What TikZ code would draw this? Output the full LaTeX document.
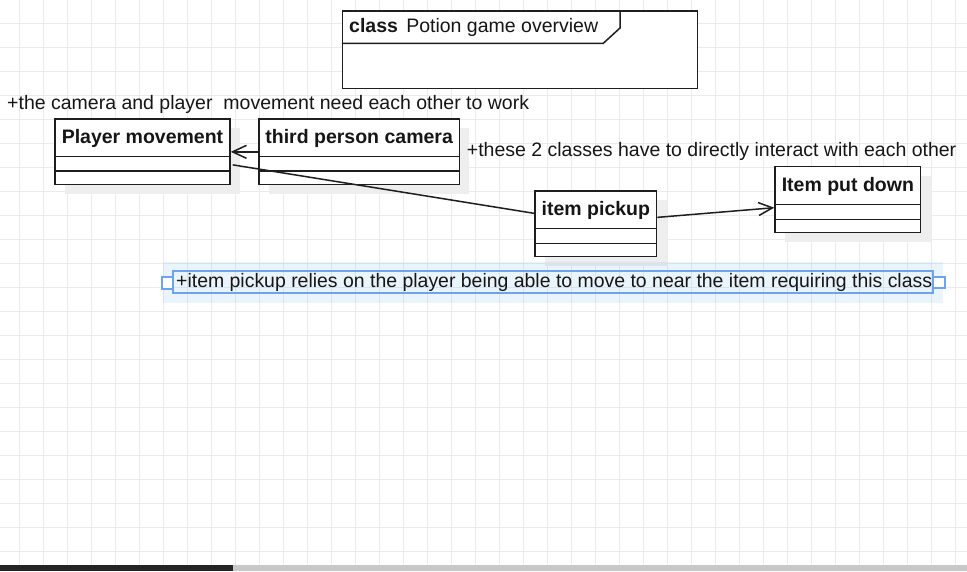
\documentclass[tikz,border=0pt]{standalone}
\usepackage{fontspec}
\usepackage{graphicx}
\setmainfont{Liberation Sans}
\usetikzlibrary{arrows.meta,shadows}
\definecolor{txt}{HTML}{161616}
\definecolor{gridc}{HTML}{EBEBEB}
\definecolor{edge}{HTML}{1E1E1E}
\definecolor{shade}{HTML}{EEEEEE}
\definecolor{selb}{HTML}{6FA3EE}
\definecolor{selfill}{HTML}{1E88E5}
\definecolor{bardark}{HTML}{242424}
\definecolor{barlight}{HTML}{C8C8C8}
\begin{document}
\begin{tikzpicture}[x=1pt,y=-1pt,
  font=\fontsize{19.5}{23}\selectfont, text=txt,
  classbox/.style={draw=edge, line width=1.5pt, fill=white, inner sep=0pt, rectangle,
    drop shadow={shadow xshift=10pt, shadow yshift=-9pt, fill=shade, opacity=1}},
  framebox/.style={draw=edge, line width=1.5pt, fill=white, inner sep=0pt, rectangle},
  classtitle/.style={anchor=base, font=\fontsize{19.5}{23}\selectfont\bfseries, inner sep=0pt},
  note/.style={anchor=base west, inner sep=0pt},
  conn/.style={draw=edge, line width=1.5pt},
  openarrow/.style={conn, -{Straight Barb[length=14pt,width=13pt]}},
  gridline/.style={draw=gridc, line width=1pt},
  selline/.style={draw=selb, line width=1.8pt}
]
\useasboundingbox (0,0) rectangle (967,571);
\fill[white] (0,0) rectangle (967,571);
% grid
\foreach \i in {0,...,39} \draw[gridline] ({19.5+24*\i},0) -- ({19.5+24*\i},571);
\foreach \j in {0,...,23} \draw[gridline] (0,{23+24*\j}) -- (967,{23+24*\j});

% frame
\node[framebox, minimum width=355pt, minimum height=77.5pt] (frame) at (520,49.75) {};
\draw[conn] (frame.west |- 0,43.3) -- (603.3,43.3) -- (620,28) -- (frame.north -| 620,0);
\node[note] (frametitle) at (349,32.5) {\textbf{class}\hspace{8.3pt}Potion game overview};

% classes
\node[classbox, minimum width=175pt, minimum height=65.7pt] (pm) at (142.5,151.85) {};
\draw[conn] (pm.west |- 0,156.7) -- (pm.east |- 0,156.7);
\draw[conn] (pm.west |- 0,171) -- (pm.east |- 0,171);
\node[classtitle] (pmt) at (142.5,143.3) {Player movement};

\node[classbox, minimum width=200.3pt, minimum height=65.7pt] (cam) at (359.15,151.85) {};
\draw[conn] (cam.west |- 0,156.7) -- (cam.east |- 0,156.7);
\draw[conn] (cam.west |- 0,171) -- (cam.east |- 0,171);
\node[classtitle] (camt) at (359.15,143.3) {third person camera};

\node[classbox, minimum width=121.7pt, minimum height=65.7pt] (pick) at (595.85,223.85) {};
\draw[conn] (pick.west |- 0,228.3) -- (pick.east |- 0,228.3);
\draw[conn] (pick.west |- 0,243.3) -- (pick.east |- 0,243.3);
\node[classtitle] (pickt) at (595.85,215) {item pickup};

\node[classbox, minimum width=145.7pt, minimum height=66pt] (put) at (847.85,199.7) {};
\draw[conn] (put.west |- 0,204.3) -- (put.east |- 0,204.3);
\draw[conn] (put.west |- 0,219.3) -- (put.east |- 0,219.3);
\node[classtitle] (putt) at (847.85,191.7) {Item put down};

% connectors
\draw[openarrow] (cam.west) -- (pm.east);
\draw[conn] ([xshift=2pt,yshift=-13pt]pm.east) -- ([yshift=10.5pt]pick.west);
\draw[openarrow] ([yshift=6.5pt]pick.east) -- ([yshift=-8pt]put.west);

% notes
\node[note] (n1) at (7,109.3) {+the camera and player\ \ movement need each other to work};
\node[note] (n2) at (466.7,156) {+these 2 classes have to directly interact with each other};

% selected note
\fill[selfill, fill opacity=0.09] (162.7,262.3) rectangle (942.7,303.3);
\node[note] (n3) at (176,287.7) {\resizebox{756pt}{\height}{+item pickup relies on the player being able to move to near the item requiring this class}};
\draw[selline] (173.3,271) rectangle (933.3,293);
\draw[selline, fill=white] (161.7,276.7) rectangle (173.3,289);
\draw[selline, fill=white] (933.3,276.7) rectangle (945,288.3);

% bottom bar
\fill[bardark] (0,565) rectangle (233,571);
\fill[barlight] (233,565) rectangle (967,571);
\end{tikzpicture}
\end{document}
